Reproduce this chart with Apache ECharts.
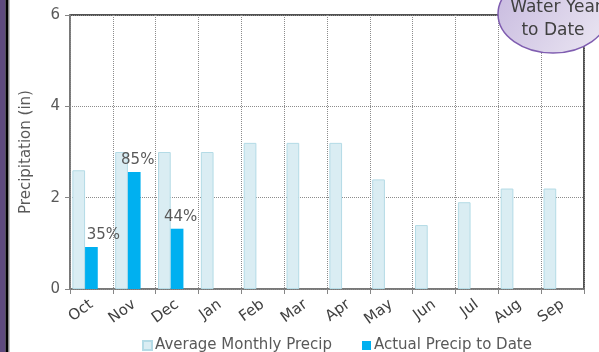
<!DOCTYPE html>
<html><head><meta charset="utf-8">
<script src="https://cdn.jsdelivr.net/npm/echarts@6/dist/echarts.min.js"></script>
<style>html,body{margin:0;padding:0;background:#fff}#c{width:599px;height:352px}</style>
</head><body><div id="c"></div>
<script>
const months = ['Oct','Nov','Dec','Jan','Feb','Mar','Apr','May','Jun','Jul','Aug','Sep'];
const avgPrecip = [2.6,3.0,3.0,3.0,3.2,3.2,3.2,2.4,1.4,1.9,2.2,2.2];
const actualPrecip = [0.92,2.56,1.32];
const pctLabels = ['35%','85%','44%'];
const yTicks = [0,2,4,6];

const FONT = 'DejaVu Sans';
const labelDx = [12,3.5,3.5];
const actualData = actualPrecip.map((v,i)=>({value:v,label:{offset:[labelDx[i],0],formatter:pctLabels[i]}}));

const chart = echarts.init(document.getElementById('c'));
chart.setOption({
  animation:false,
  textStyle:{fontFamily:FONT},
  grid:{left:70,right:15,top:15,bottom:63,show:true,borderColor:'#1a1a1a',borderWidth:1.5,backgroundColor:'transparent'},
  legend:{
    left:137, top:333, itemWidth:9, itemHeight:9, itemGap:30,
    data:[{name:'Average Monthly Precip',icon:'rect'},{name:'Actual Precip to Date',icon:'rect'}],
    textStyle:{fontSize:15,color:'#595959',fontFamily:FONT,padding:[0,0,0,-2]}
  },
  xAxis:{
    type:'category', data:months,
    axisLine:{lineStyle:{color:'#868686',width:1.5}},
    axisTick:{show:true,length:5,lineStyle:{color:'#868686'}},
    axisLabel:{rotate:36,fontSize:15,color:'#404040',margin:14,fontFamily:FONT},
    splitLine:{show:true,interval:0,lineStyle:{color:'#8c8c8c',type:[1,1],width:1}}
  },
  yAxis:{
    type:'value', min:yTicks[0], max:yTicks[yTicks.length-1], interval:2,
    name:'Precipitation (in)', nameLocation:'middle', nameGap:36,
    nameTextStyle:{fontSize:15,color:'#595959',fontFamily:FONT},
    axisLine:{show:true,lineStyle:{color:'#868686',width:1.5}},
    axisTick:{show:true,length:5,lineStyle:{color:'#868686'}},
    axisLabel:{fontSize:15,color:'#595959',margin:10,fontFamily:FONT},
    splitLine:{show:true,lineStyle:{color:'#8c8c8c',type:[1,1],width:1}}
  },
  series:[
    {name:'Average Monthly Precip',type:'bar',data:avgPrecip,barWidth:12.7,barGap:'0%',
      itemStyle:{color:'#daedf3',borderColor:'#b4dbe6',borderWidth:1}},
    {name:'Actual Precip to Date',type:'bar',data:actualData,barWidth:12.7,barGap:'0%',
      itemStyle:{color:'#00b0f0'},
      label:{show:true,position:'top',distance:4,fontSize:15,color:'#595959',fontFamily:FONT}},
    {name:'_pad',type:'bar',data:[],barWidth:12.7,barGap:'0%'}
  ],
  graphic:[
    {type:'rect',shape:{x:0,y:0,width:5.5,height:352},style:{fill:'#5e4a7e'},silent:true},
    {type:'rect',shape:{x:5.5,y:0,width:3,height:352},style:{fill:'#000'},silent:true},
    {type:'rect',shape:{x:8.5,y:0,width:1,height:352},style:{fill:'#888'},silent:true},
    {type:'ellipse',shape:{cx:553,cy:14,rx:55,ry:39},z:100,
      style:{fill:new echarts.graphic.LinearGradient(0,0,1,1,[{offset:0,color:'#c6b8de'},{offset:1,color:'#ece8f3'}]),
        stroke:'#7f5db0',lineWidth:1.5}},
    {type:'text',x:556,y:8,z:101,style:{text:'Water Year',font:'17px "DejaVu Sans"',fill:'#404040',align:'center',verticalAlign:'middle'}},
    {type:'text',x:553,y:31,z:101,style:{text:'to Date',font:'17px "DejaVu Sans"',fill:'#404040',align:'center',verticalAlign:'middle'}}
  ]
});
</script></body></html>
